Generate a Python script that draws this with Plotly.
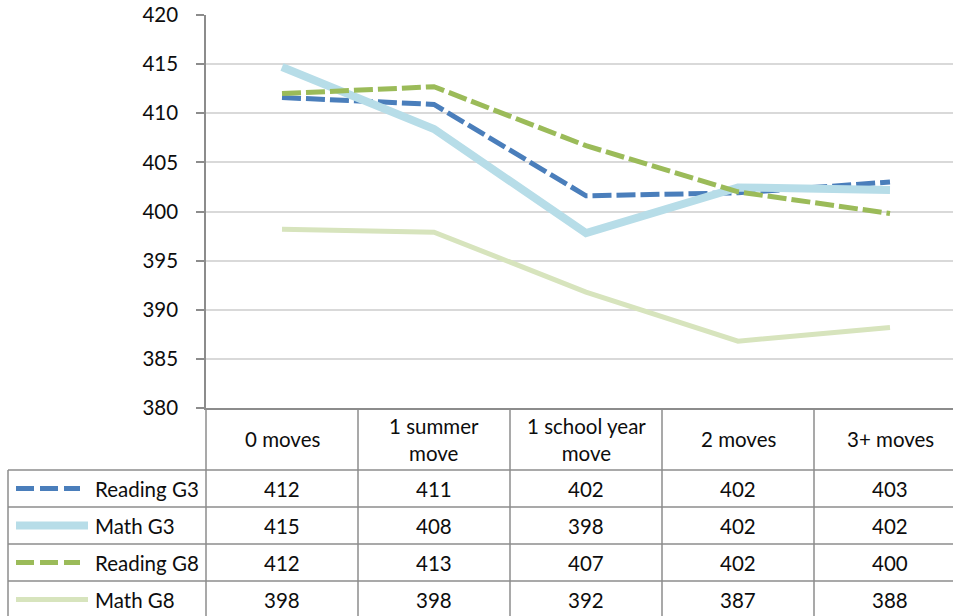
import plotly.graph_objects as go

# Student mobility: average scale scores by number of moves
categories = ["0 moves", "1 summer<br>move", "1 school year<br>move", "2 moves", "3+ moves"]
series_names = ["Reading G3", "Math G3", "Reading G8", "Math G8"]
reading_g3 = [411.6, 410.9, 401.6, 401.9, 403.0]
math_g3 = [414.7, 408.4, 397.8, 402.45, 402.2]
reading_g8 = [412.0, 412.7, 406.7, 402.0, 399.8]
math_g8 = [398.2, 397.9, 391.8, 386.8, 388.2]
y_ticks = [380, 385, 390, 395, 400, 405, 410, 415, 420]

series_values = [reading_g3, math_g3, reading_g8, math_g8]
colors = ["#4a7ebb", "#b7dde8", "#9bbb59", "#d7e4bd"]
widths = [5, 8, 5, 5]
dashes = ["19px,5px", "solid", "19px,5px", "solid"]

FONT = "Lato, Carlito, Calibri, sans-serif"
GRID = "#d9d9d9"
RULE = "#8c8c8c"
TEXT = "#0d0d0d"
FS = 20.5

W, H = 953, 616
ML, MT, MB = 206, 15, 208
plot_w = W - ML
col_w = 152
x_idx = list(range(len(categories)))

fig = go.Figure()
for name, vals, c, w, d in zip(series_names, series_values, colors, widths, dashes):
    fig.add_trace(go.Scatter(
        x=x_idx, y=vals, mode="lines", name=name,
        line=dict(color=c, width=w, dash=d),
        showlegend=False, hoverinfo="skip",
    ))

shapes = []
annotations = []

# table geometry (pixel offsets below the plot area)
header_h = 62
row_h = 37
table_bottom = header_h + row_h * len(series_names) + 10
legend_left = 8 - ML  # relative to the y axis

# vertical column rules from the x axis down through the table
for b in [i + 0.5 for i in x_idx[:-1]]:
    shapes.append(dict(type="line", xref="x", yref="paper", ysizemode="pixel", yanchor=0,
                       x0=b, x1=b, y0=0, y1=-table_bottom,
                       line=dict(color=RULE, width=1.5)))
# y axis continuation through the table
shapes.append(dict(type="line", xref="paper", yref="paper", ysizemode="pixel", yanchor=0,
                   x0=0, x1=0, y0=0, y1=-table_bottom, line=dict(color=RULE, width=1.5)))
# left border of the legend column
shapes.append(dict(type="line", xref="paper", xsizemode="pixel", xanchor=0,
                   yref="paper", ysizemode="pixel", yanchor=0,
                   x0=legend_left, x1=legend_left, y0=-header_h, y1=-table_bottom,
                   line=dict(color=RULE, width=1.5)))
# horizontal row rules
for r in range(len(series_names)):
    yy = -(header_h + r * row_h)
    shapes.append(dict(type="line", xref="paper", xsizemode="pixel", xanchor=0,
                       yref="paper", ysizemode="pixel", yanchor=0,
                       x0=legend_left, x1=plot_w + 20, y0=yy, y1=yy,
                       line=dict(color=RULE, width=1.5)))

# header labels
for i, cat in zip(x_idx, categories):
    annotations.append(dict(x=i, y=0, xref="x", yref="paper", text=cat, showarrow=False,
                            yshift=-header_h / 2, yanchor="middle", xanchor="center",
                            font=dict(family=FONT, size=FS, color=TEXT)))

# data rows with legend keys
for r, (name, vals, c, w, d) in enumerate(zip(series_names, series_values, colors, widths, dashes)):
    yc = -(header_h + r * row_h + row_h / 2)
    key_end = 80 if d != "solid" else 88
    shapes.append(dict(type="line", xref="paper", xsizemode="pixel", xanchor=0,
                       yref="paper", ysizemode="pixel", yanchor=0,
                       x0=16 - ML, x1=key_end - ML, y0=yc, y1=yc,
                       line=dict(color=c, width=w, dash=d if d == "solid" else "18px,6px")))
    annotations.append(dict(x=0, y=0, xref="paper", yref="paper", text=name, showarrow=False,
                            xshift=93 - ML, yshift=yc, xanchor="left", yanchor="middle",
                            font=dict(family=FONT, size=FS, color=TEXT)))
    for i, v in zip(x_idx, vals):
        annotations.append(dict(x=i, y=0, xref="x", yref="paper", text=f"{v:.0f}",
                                showarrow=False, yshift=yc, xanchor="center", yanchor="middle",
                                font=dict(family=FONT, size=FS, color=TEXT)))

fig.update_layout(
    width=W, height=H,
    margin=dict(l=ML, r=0, t=MT, b=MB, pad=0),
    paper_bgcolor="white", plot_bgcolor="white",
    shapes=shapes, annotations=annotations,
    xaxis=dict(range=[-0.5, -0.5 + plot_w / col_w], showticklabels=False, showgrid=False,
               zeroline=False, showline=True, linecolor=RULE, linewidth=1.5, ticks=""),
    yaxis=dict(range=[380, 420], tickvals=y_ticks, showgrid=True, gridcolor=GRID, gridwidth=1.5,
               zeroline=False, showline=True, linecolor=RULE, linewidth=1.5,
               ticks="outside", ticklen=8, tickcolor=RULE, tickwidth=1.5,
               ticklabelstandoff=14,
               tickfont=dict(family=FONT, size=FS, color=TEXT)),
)

fig.write_html("out.html")
